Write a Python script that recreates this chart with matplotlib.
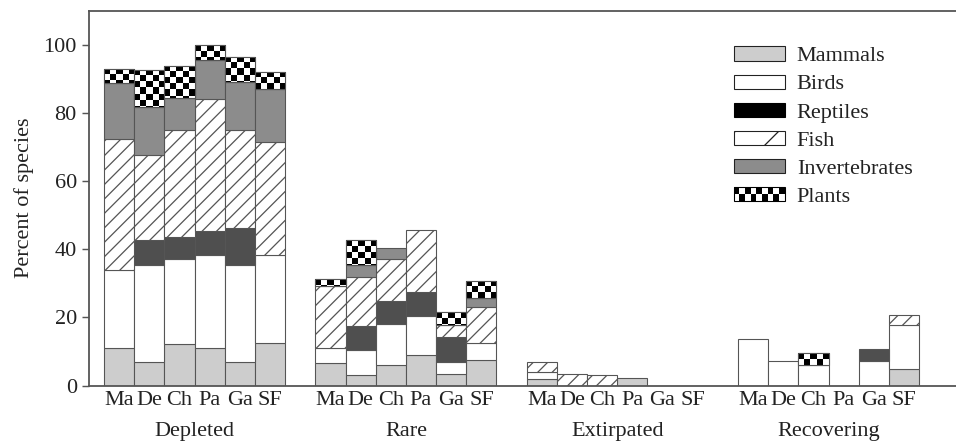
import numpy as np
import matplotlib
matplotlib.use('Agg')
import matplotlib.pyplot as plt
from matplotlib.patches import Rectangle, Patch
from matplotlib.legend_handler import HandlerBase

plt.rcParams['font.family'] = ['Liberation Serif', 'DejaVu Serif']
plt.rcParams['hatch.linewidth'] = 0.7

# data: percent of species, one value per site (Ma, De, Ch, Pa, Ga, SF) in each group
groups = ['Depleted', 'Rare', 'Extirpated', 'Recovering']
sites = ['Ma', 'De', 'Ch', 'Pa', 'Ga', 'SF']
taxa = ['Mammals', 'Birds', 'Reptiles', 'Fish', 'Invertebrates', 'Plants']

mammals = [[11.1, 6.9, 12.2, 11.1, 6.9, 12.5],
           [6.6, 3.1, 5.9, 9.0, 3.4, 7.5],
           [2.0, 0, 0, 2.1, 0, 0],
           [0, 0, 0, 0, 0, 4.9]]
birds = [[22.9, 28.6, 25.1, 27.3, 28.6, 25.7],
         [4.5, 7.2, 12.2, 11.3, 3.4, 5.1],
         [2.1, 0, 0, 0, 0, 0],
         [13.7, 7.3, 6.1, 0, 7.1, 12.8]]
reptiles = [[0, 7.1, 6.3, 6.9, 10.7, 0],
            [0, 7.2, 6.6, 7.1, 7.4, 0],
            [0, 0, 0, 0, 0, 0],
            [0, 0, 0, 0, 3.7, 0]]
fish = [[38.5, 25.1, 31.4, 38.8, 28.8, 33.4],
        [18.1, 14.4, 12.6, 18.2, 3.6, 10.4],
        [2.7, 3.5, 3.1, 0, 0, 0],
        [0, 0, 0, 0, 0, 3.0]]
invertebrates = [[16.2, 14.2, 9.3, 11.5, 14.2, 15.5],
                 [0, 3.4, 3.2, 0, 0, 2.6],
                 [0, 0, 0, 0, 0, 0],
                 [0, 0, 0, 0, 0, 0]]
plants = [[4.4, 10.9, 9.5, 4.4, 7.4, 5.1],
          [2.1, 7.3, 0, 0, 3.7, 5.2],
          [0, 0, 0, 0, 0, 0],
          [0, 0, 3.4, 0, 0, 0]]

series = [mammals, birds, reptiles, fish, invertebrates, plants]
styles = [dict(facecolor='#cdcdcd'),
          dict(facecolor='white'),
          dict(facecolor='#4f4f4f'),
          dict(facecolor='white', hatch='///'),
          dict(facecolor='#8c8c8c'),
          dict(facecolor='white')]

dpi = 130
fs = 12.3
fig = plt.figure(figsize=(956 / dpi, 448 / dpi), dpi=dpi)
ax = fig.add_axes([0.0936, 0.1395, 0.9064, 0.836])

edge = '#555555'
cell_x, cell_y = 0.2, 1.76

positions = np.array([[g * 7 + j for j in range(len(sites))] for g in range(len(groups))])
bottom = np.zeros(positions.shape)
for k, vals in enumerate(series):
    vals = np.array(vals, dtype=float)
    for g in range(len(groups)):
        for j in range(len(sites)):
            h = vals[g, j]
            if h <= 0:
                continue
            x = positions[g, j]
            b = bottom[g, j]
            bars = ax.bar(x, h, bottom=b, width=1, align='edge',
                          edgecolor=edge, linewidth=0.6, **styles[k])
            if taxa[k] == 'Plants':
                # checkerboard fill, clipped to the bar
                nx = int(round(1 / cell_x))
                ny = int(np.ceil(h / cell_y))
                pat = (np.add.outer(np.arange(ny), np.arange(nx)) % 2).astype(float)
                im = ax.imshow(pat, cmap='gray', interpolation='nearest', aspect='auto',
                               extent=(x, x + 1, b + h - ny * cell_y, b + h), zorder=1.5)
                im.set_clip_path(bars[0])
                ax.add_patch(Rectangle((x, b), 1, h, fill=False, edgecolor=edge,
                                       linewidth=0.6, zorder=1.6))
    bottom += vals

ax.set_xlim(-0.48, 28.22)
ax.set_ylim(0, 110)
ax.set_yticks(np.arange(0, 101, 20))
ax.set_xticks(positions.ravel() + 0.5)
ax.set_xticklabels(sites * len(groups))
ax.tick_params(axis='x', length=0, pad=3, labelsize=fs, colors='#222222')
ax.tick_params(axis='y', length=4, width=0.8, color=edge, pad=3, labelsize=fs,
               labelcolor='#222222')
for s in ['top', 'left', 'bottom']:
    ax.spines[s].set_color(edge)
    ax.spines[s].set_linewidth(1.0)
ax.spines['right'].set_visible(False)

for g, name in enumerate(groups):
    ax.text(positions[g].mean() + 0.5, -0.124, name, ha='center', va='center',
            fontsize=fs, color='#222222', transform=ax.get_xaxis_transform())

ax.set_ylabel('Percent of species', fontsize=fs, color='#222222')
ax.yaxis.set_label_coords(-0.064, 0.5)


class CheckerHandler(HandlerBase):
    def create_artists(self, legend, orig_handle, xdescent, ydescent,
                       width, height, fontsize, trans):
        arts = [Rectangle((-xdescent, -ydescent), width, height, facecolor='white',
                          edgecolor='black', linewidth=0.6, transform=trans)]
        nx, ny = 9, 2
        cw, ch = width / nx, height / ny
        for i in range(nx):
            for j in range(ny):
                if (i + j) % 2 == 1:
                    arts.append(Rectangle((-xdescent + i * cw, -ydescent + j * ch), cw, ch,
                                          facecolor='black', edgecolor='none', transform=trans))
        return arts


handles = [Patch(facecolor='#cdcdcd', edgecolor='#222222', linewidth=0.6),
           Patch(facecolor='white', edgecolor='#222222', linewidth=0.6),
           Patch(facecolor='black', edgecolor='black', linewidth=0.6),
           Patch(facecolor='white', edgecolor='#222222', hatch='/', linewidth=0.6),
           Patch(facecolor='#8c8c8c', edgecolor='#222222', linewidth=0.6),
           Patch(facecolor='white', edgecolor='black', linewidth=0.6)]
leg = ax.legend(handles, taxa, loc='upper left', bbox_to_anchor=(0.733, 0.929),
                frameon=False, fontsize=fs, handlelength=2.3, handleheight=0.6,
                handletextpad=0.55, labelspacing=0.37, borderaxespad=0,
                handler_map={handles[5]: CheckerHandler()})
for t in leg.get_texts():
    t.set_color('#222222')

fig.savefig('out.png', dpi=dpi)
